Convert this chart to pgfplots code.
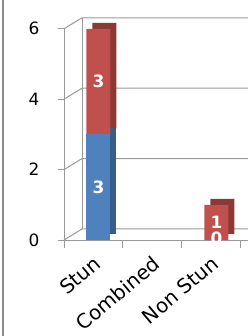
\documentclass[border=0pt]{standalone}
\usepackage{fontspec}
\setmainfont{DejaVu Sans}
\usepackage{pgfplots}
\pgfplotsset{compat=1.18}
\definecolor{xblue}{HTML}{4F81BD}
\definecolor{xred}{HTML}{C0504D}
\definecolor{xbluedk}{HTML}{385D8A}
\definecolor{xreddk}{HTML}{8C3836}
\definecolor{gridc}{HTML}{999999}
\pgfplotsset{
  common/.style={
    at={(64bp,96bp)}, anchor=south west,
    scale only axis, width=184bp, height=225.3bp,
    xmin=-0.5, xmax=2.62, ymin=0, ymax=6.4,
  }
}
\begin{document}
\begin{tikzpicture}[x=1bp,y=1bp]
\path[use as bounding box] (0,0) rectangle (248,336);
\clip (0,0) rectangle (248,336);
\draw[gray!90, line width=1.6bp] (3,0) -- (3,336);
% back wall and floor frame
\begin{axis}[common, hide axis, clip=false]
\pgfplotsinvokeforeach{0,2,4,6}{
  \draw[gridc, line width=1bp] (axis cs:-0.5,#1) -- ++(18bp,11bp) -- ([xshift=18bp,yshift=11bp]axis cs:2.62,#1) -- ++(30bp,0);
}
\draw[gridc, line width=1bp] ([xshift=18bp,yshift=11bp]axis cs:-0.5,0) -- ([xshift=18bp,yshift=11bp]axis cs:-0.5,6);
\end{axis}
% side faces of the bars
\begin{axis}[common, hide axis, ybar stacked, bar width=24bp, bar shift=11bp]
\addplot[fill=xbluedk, draw=none, yshift=6bp] coordinates {(0,3) (1,0) (2,0)};
\addplot[fill=xreddk, draw=none, yshift=6bp] coordinates {(0,3) (1,0) (2,1)};
\end{axis}
\begin{axis}[
  common,
  ybar stacked, bar width=24bp, bar shift=5bp,
  axis x line*=bottom, axis y line*=left,
  y axis line style={draw=none},
  x axis line style={gridc, line width=1bp},
  /pgf/number format/assume math mode=true,
  ytick={0,2,4,6},
  xtick={0,1,2}, xticklabels={Stun,Combined,Non Stun},
  minor xtick={-0.5,0.5,1.5,2.5},
  major x tick style={draw=none},
  minor x tick style={gridc, line width=1bp},
  y tick style={gridc, line width=1bp},
  tick align=outside, major tick length=6bp, minor tick length=8bp,
  y tick label style={font=\fontsize{17}{19}\selectfont, xshift=-15bp},
  x tick label style={font=\fontsize{20}{22}\selectfont, xshift=-0.5bp, yshift=-4bp, rotate=40, anchor=north east},
  clip=false,
]
\draw[gridc, line width=1bp] (axis cs:-0.5,0) -- (axis cs:-0.5,6);
\addplot[fill=xblue, draw=none] coordinates {(0,3) (1,0) (2,0)};
\addplot[fill=xred, draw=none] coordinates {(0,3) (1,0) (2,1)};
\end{axis}
\begin{axis}[common, hide axis]
\addplot[draw=none, mark=none,
  nodes near coords, point meta=explicit symbolic,
  every node near coord/.append style={anchor=center, xshift=5bp, text=white, font=\bfseries\fontsize{17}{17}\selectfont}]
  coordinates {(0,1.5)[3] (0,4.5)[3] (2,0.5)[1] (2,0.05)[0]};
\end{axis}
\end{tikzpicture}
\end{document}
